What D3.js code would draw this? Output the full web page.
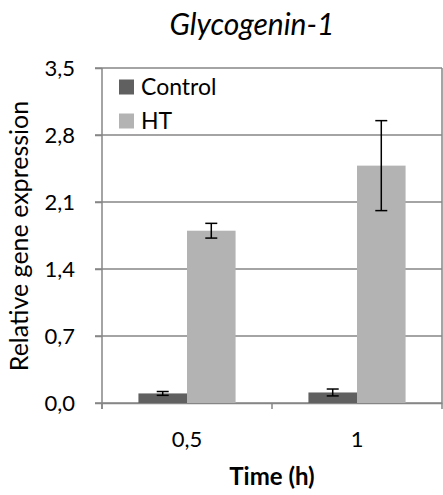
<!DOCTYPE html>
<html><head><meta charset="utf-8">
<script src="https://cdn.jsdelivr.net/npm/d3@7"></script>
<style>body{margin:0;background:#fff}svg{display:block}text{font-family:Lato,"Open Sans",sans-serif;fill:#000}</style>
</head><body><svg id="c" width="443" height="495"></svg>
<script>
const categories = ["0,5", "1"];
const seriesNames = ["Control", "HT"];
const controlValues = [0.10, 0.11];
const controlErrors = [0.02, 0.036];
const htValues = [1.80, 2.48];
const htErrors = [0.077, 0.47];
const yTicks = [0, 0.7, 1.4, 2.1, 2.8, 3.5];
const colors = ["#606060", "#b3b3b3"];

(function () {
const svg = d3.select("#c");
const pL = 102, pR = 442, pT = 68, pB = 403;
const x = d3.scaleBand().domain(categories).range([pL, pR]).paddingInner(0).paddingOuter(0);
const xs = d3.scaleBand().domain(seriesNames).range([0, x.bandwidth()]).paddingInner(0).paddingOuter(0.75);
const y = d3.scaleLinear().domain([0, 3.5]).range([pB, pT]);

// gridlines
svg.append("g").selectAll("line").data(yTicks).join("line")
  .attr("x1", pL - 7).attr("x2", pR).attr("y1", d => y(d)).attr("y2", d => y(d))
  .attr("stroke", "#868686").attr("stroke-width", 1.5);
// right border
svg.append("line").attr("x1", pR).attr("x2", pR).attr("y1", pT).attr("y2", pB)
  .attr("stroke", "#868686").attr("stroke-width", 1.5);

// y axis
const ya = svg.append("g").attr("transform", `translate(${pL},0)`)
  .call(d3.axisLeft(y).tickValues(yTicks).tickFormat(d => d3.format(".1f")(d).replace(".", ",")).tickSize(7).tickPadding(20));
ya.select(".domain").remove();
ya.selectAll("line").attr("stroke", "#868686").attr("stroke-width", 1.5);
ya.selectAll("text").style("font-size", "22px");
svg.append("line").attr("x1", pL).attr("x2", pL).attr("y1", pT).attr("y2", pB + 6)
  .attr("stroke", "#868686").attr("stroke-width", 1.5);

// x axis
const xa = svg.append("g").attr("transform", `translate(0,${pB})`)
  .call(d3.axisBottom(x).tickSize(0).tickPadding(28));
xa.select(".domain").attr("stroke", "#868686").attr("stroke-width", 1.5);
xa.selectAll("text").style("font-size", "22px");
svg.append("g").selectAll("line").data([pL, pL + x.bandwidth(), pR]).join("line")
  .attr("x1", d => d).attr("x2", d => d).attr("y1", pB).attr("y2", pB + 6)
  .attr("stroke", "#868686").attr("stroke-width", 1.5);

// bars
const series = [
  {name: "Control", values: controlValues, errors: controlErrors, color: colors[0]},
  {name: "HT", values: htValues, errors: htErrors, color: colors[1]}
];
series.forEach(s => {
  const g = svg.append("g");
  g.selectAll("rect").data(categories).join("rect")
    .attr("x", c => x(c) + xs(s.name)).attr("width", xs.bandwidth())
    .attr("y", (c, i) => y(s.values[i])).attr("height", (c, i) => y(0) - y(s.values[i]))
    .attr("fill", s.color);
  categories.forEach((c, i) => {
    const cx = x(c) + xs(s.name) + xs.bandwidth() / 2;
    const y1 = y(s.values[i] + s.errors[i]), y2 = y(s.values[i] - s.errors[i]);
    g.append("line").attr("x1", cx).attr("x2", cx).attr("y1", y1).attr("y2", y2).attr("stroke", "#000").attr("stroke-width", 1.5);
    [y1, y2].forEach(yy => g.append("line").attr("x1", cx - 6).attr("x2", cx + 6).attr("y1", yy).attr("y2", yy).attr("stroke", "#000").attr("stroke-width", 1.5));
  });
});

// legend
const leg = svg.append("g");
series.forEach((s, i) => {
  const ly = 87 + i * 34;
  leg.append("rect").attr("x", 119).attr("y", ly - 7.5).attr("width", 15).attr("height", 15).attr("fill", s.color);
  leg.append("text").attr("x", 141).attr("y", ly).attr("dy", "0.35em").style("font-size", "23px").text(s.name);
});

// title
svg.append("text").attr("x", 252).attr("y", 35).attr("text-anchor", "middle")
  .style("font-size", "30px").style("font-style", "italic").text("Glycogenin-1");
// axis titles
svg.append("text").attr("x", 272).attr("y", 485).attr("text-anchor", "middle")
  .style("font-size", "24px").style("font-weight", "bold").text("Time (h)");
svg.append("text").attr("transform", "translate(28,236) rotate(-90)").attr("text-anchor", "middle")
  .style("font-size", "25px").text("Relative gene expression");
})();
</script></body></html>
